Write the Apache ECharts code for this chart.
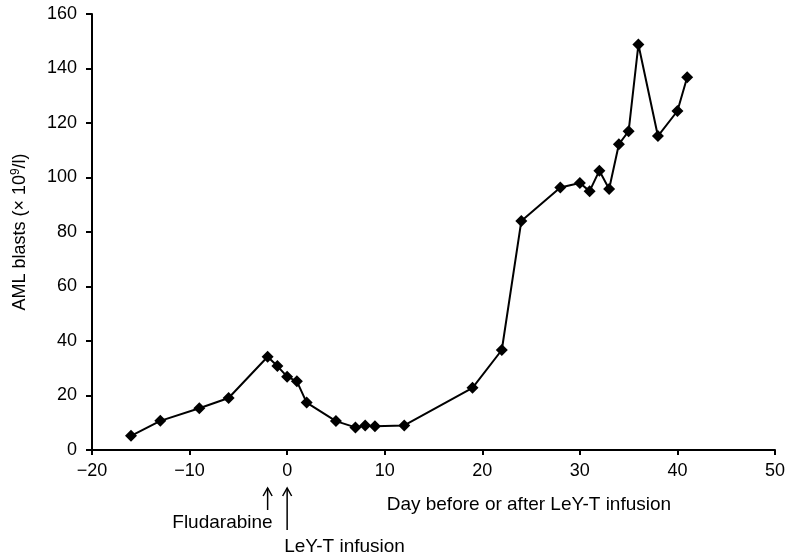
<!DOCTYPE html>
<html>
<head>
<meta charset="utf-8">
<script src="https://cdn.jsdelivr.net/npm/echarts@6/dist/echarts.min.js"></script>
<style>
html,body{margin:0;padding:0;background:#fff;}
#chart{width:789px;height:558px;}
</style>
</head>
<body>
<div id="chart"></div>
<script>
const days = [-16,-13,-9,-6,-2,-1,0,1,2,5,7,8,9,12,19,22,24,28,30,31,32,33,34,35,36,38,40,41];
const blasts = [5.2,10.7,15.3,19.1,34.2,30.8,26.9,25.2,17.4,10.6,8.3,9.0,8.7,9.0,22.8,36.7,84.0,96.3,98.0,95.0,102.5,95.8,112.2,117.0,148.8,115.2,124.4,136.8];
const xTicks = {min:-20, max:50, interval:10};
const yTicks = {min:0, max:160, interval:20};
const yAxisTitle = 'AML blasts (× 10{sup|9}/l)';
const xAxisTitle = 'Day before or after LeY-T infusion';
const arrowNotes = [
  {day:-2, label:'Fludarabine'},
  {day:0, label:'LeY-T infusion'}
];

const FONT = '"Liberation Sans", Arial, Helvetica, sans-serif';
const chart = echarts.init(document.getElementById('chart'), null, {renderer:'canvas'});
const fmt = v => String(v).replace('-', '\u2212');

chart.setOption({
  animation:false,
  backgroundColor:'#fff',
  grid:{left:92, right:14, top:14, bottom:108, containLabel:false},
  xAxis:{
    type:'value', min:xTicks.min, max:xTicks.max, interval:xTicks.interval,
    axisLine:{onZero:false, lineStyle:{color:'#000', width:2}},
    axisTick:{show:true, length:5, lineStyle:{color:'#000', width:2}},
    axisLabel:{color:'#000', fontSize:18, fontFamily:FONT, margin:12, formatter:fmt},
    splitLine:{show:false}
  },
  yAxis:{
    type:'value', min:yTicks.min, max:yTicks.max, interval:yTicks.interval,
    axisLine:{show:true, onZero:false, lineStyle:{color:'#000', width:2}},
    axisTick:{show:true, length:6, lineStyle:{color:'#000', width:2}},
    axisLabel:{color:'#000', fontSize:18, fontFamily:FONT, margin:15},
    splitLine:{show:false},
    name:yAxisTitle, nameLocation:'middle', nameGap:62, nameRotate:90,
    nameTextStyle:{color:'#000', fontSize:18, fontFamily:FONT,
      rich:{sup:{fontSize:12, verticalAlign:'top', padding:[0,0,8,0], color:'#000', fontFamily:FONT}}}
  },
  series:[{
    type:'line',
    data:days.map((d,i)=>[d, blasts[i]]),
    symbol:'diamond', symbolSize:12,
    lineStyle:{color:'#000', width:2},
    itemStyle:{color:'#000'}
  }]
});

const y0 = chart.convertToPixel({yAxisIndex:0}, 0);
const graphics = [];
arrowNotes.forEach((n, i) => {
  const x = chart.convertToPixel({xAxisIndex:0}, n.day);
  const top = y0 + 38;
  const bottom = i === 0 ? y0 + 60 : y0 + 80;
  graphics.push({type:'polyline', shape:{points:[[x, top],[x, bottom]]}, style:{stroke:'#000', lineWidth:1.5, fill:null}});
  graphics.push({type:'polyline', shape:{points:[[x-4.5, top+8],[x, top],[x+4.5, top+8]]}, style:{stroke:'#000', lineWidth:1.5, fill:null}});
  if (i === 0) {
    graphics.push({type:'text', x:x+5, y:y0+73, style:{text:n.label, fill:'#000', font:'19px '+FONT, textAlign:'right', textVerticalAlign:'middle'}});
  } else {
    graphics.push({type:'text', x:x-3, y:y0+97, style:{text:n.label, fill:'#000', font:'19px '+FONT, textAlign:'left', textVerticalAlign:'middle'}});
  }
});
const xName = chart.convertToPixel({xAxisIndex:0}, 10.2);
graphics.push({type:'text', x:xName, y:y0+55, style:{text:xAxisTitle, fill:'#000', font:'19px '+FONT, textAlign:'left', textVerticalAlign:'middle'}});
chart.setOption({graphic:graphics});
</script>
</body>
</html>
